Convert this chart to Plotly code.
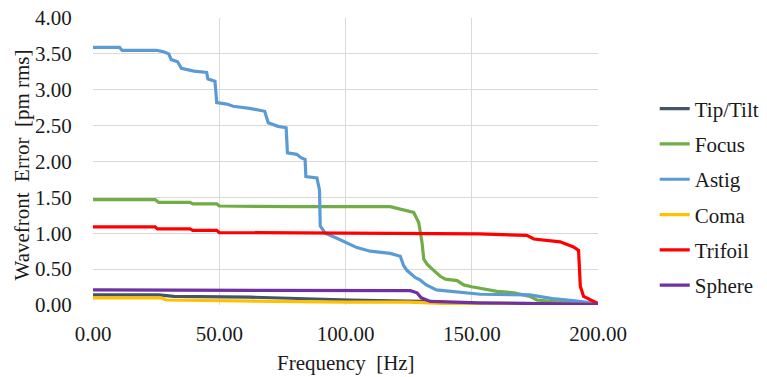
import plotly.graph_objects as go

# Data (frequency in Hz, wavefront error in pm rms)
tiptilt_f = [0, 26, 32, 62, 102, 130, 150, 200]
tiptilt_v = [0.14, 0.14, 0.12, 0.11, 0.07, 0.05, 0.02, 0.01]

focus_f = [0, 24.6, 26, 38.4, 39.5, 49, 50, 80, 117.7, 121.7, 127, 129, 130.3, 131, 132.3,
           134.7, 137.5, 139.6, 144.2, 146.8, 150, 160, 166.7, 173, 175.8, 185, 200]
focus_v = [1.47, 1.47, 1.43, 1.43, 1.41, 1.41, 1.38, 1.37, 1.37, 1.34, 1.29, 1.15, 0.87, 0.64, 0.57,
           0.49, 0.40, 0.36, 0.34, 0.28, 0.255, 0.19, 0.17, 0.12, 0.07, 0.04, 0.01]

astig_f = [0, 10.5, 11.5, 25, 28, 30, 31, 33.5, 35, 40, 45, 45.5, 48.3, 49, 53, 55.5, 62, 68,
           69.4, 73.3, 76.5, 76.7, 77, 80.7, 82.5, 84, 84.3, 88.7, 89.7, 90, 92, 96.6, 100.5,
           104.5, 109.8, 117.7, 121.7, 123, 124.4, 127.7, 129.5, 132, 136, 142.6, 149, 153.4,
           173, 182, 190, 200]
astig_v = [3.59, 3.59, 3.55, 3.55, 3.53, 3.50, 3.42, 3.39, 3.30, 3.26, 3.24, 3.15, 3.12, 2.82,
           2.80, 2.77, 2.74, 2.70, 2.54, 2.49, 2.47, 2.30, 2.12, 2.10, 2.05, 2.03, 1.79, 1.77,
           1.60, 1.10, 1.00, 0.93, 0.87, 0.80, 0.75, 0.72, 0.68, 0.55, 0.48, 0.38, 0.35, 0.28,
           0.21, 0.19, 0.16, 0.15, 0.14, 0.09, 0.06, 0.02]

coma_f = [0, 27, 29, 50, 100, 125, 140, 200]
coma_v = [0.10, 0.10, 0.07, 0.06, 0.04, 0.04, 0.02, 0.01]

trifoil_f = [0, 24.6, 25.5, 38.4, 39.5, 49, 50, 100, 153, 171.8, 174.6, 185, 190.3, 192.3,
             193, 194.3, 198.3, 200]
trifoil_v = [1.09, 1.09, 1.06, 1.06, 1.04, 1.04, 1.01, 1.00, 0.99, 0.97, 0.92, 0.88, 0.81, 0.76,
             0.26, 0.12, 0.05, 0.02]

sphere_f = [0, 24, 25, 125.7, 128.3, 130, 133.6, 140, 153, 200]
sphere_v = [0.21, 0.21, 0.20, 0.20, 0.17, 0.10, 0.05, 0.04, 0.03, 0.01]

series = [
    ("Tip/Tilt", tiptilt_f, tiptilt_v, "#44546A"),
    ("Focus", focus_f, focus_v, "#70AD47"),
    ("Astig", astig_f, astig_v, "#5B9BD5"),
    ("Coma", coma_f, coma_v, "#FFC000"),
    ("Trifoil", trifoil_f, trifoil_v, "#FF0000"),
    ("Sphere", sphere_f, sphere_v, "#7030A0"),
]

x_ticks = [0, 50, 100, 150, 200]
y_ticks = [0, 0.5, 1.0, 1.5, 2.0, 2.5, 3.0, 3.5, 4.0]
x_title = "Frequency  [Hz]"
y_title = "Wavefront  Error  [pm rms]"

FONT = "Liberation Serif"

fig = go.Figure()
for name, f, v, c in series:
    fig.add_trace(go.Scatter(x=f, y=v, mode="lines", name=name, legendgroup=name,
                             line=dict(color=c, width=3.2)))

fig.update_layout(
    width=767, height=377,
    margin=dict(l=93, r=169, t=18, b=72, autoexpand=False),
    paper_bgcolor="white", plot_bgcolor="white",
    font=dict(family=FONT, size=21, color="#1a1a1a"),
    showlegend=True,
    legend=dict(x=0.8536, xanchor="left", xref="container",
                y=0.7653, yanchor="top", yref="container", maxheight=300,
                tracegroupgap=5, font=dict(size=21, family=FONT),
                bgcolor="rgba(0,0,0,0)"),
    annotations=[
        dict(text=x_title, xref="paper", yref="paper", x=0.5, y=0,
             xanchor="center", yanchor="middle", yshift=-58, showarrow=False,
             font=dict(family=FONT, size=21, color="#1a1a1a")),
        dict(text=y_title, xref="paper", yref="paper", x=0, y=0.5,
             xanchor="center", yanchor="middle", xshift=-72, yshift=-4,
             textangle=-90, showarrow=False,
             font=dict(family=FONT, size=21, color="#1a1a1a")),
    ],
)
fig.update_xaxes(range=[0, 200], tickvals=x_ticks, tickformat=".2f", automargin=False,
                 showgrid=True, gridcolor="#D9D9D9", gridwidth=1,
                 zeroline=False, showline=False,
                 ticks="outside", ticklen=10, tickcolor="rgba(0,0,0,0)")
fig.update_yaxes(range=[0, 4], tickvals=y_ticks, tickformat=".2f", automargin=False,
                 showgrid=True, gridcolor="#D9D9D9", gridwidth=1,
                 zeroline=False, showline=False,
                 ticks="outside", ticklen=16, tickcolor="rgba(0,0,0,0)")

fig.write_html("out.html", config={"displayModeBar": False},
               post_script="document.body.style.margin='0';document.body.style.overflow='hidden';")
